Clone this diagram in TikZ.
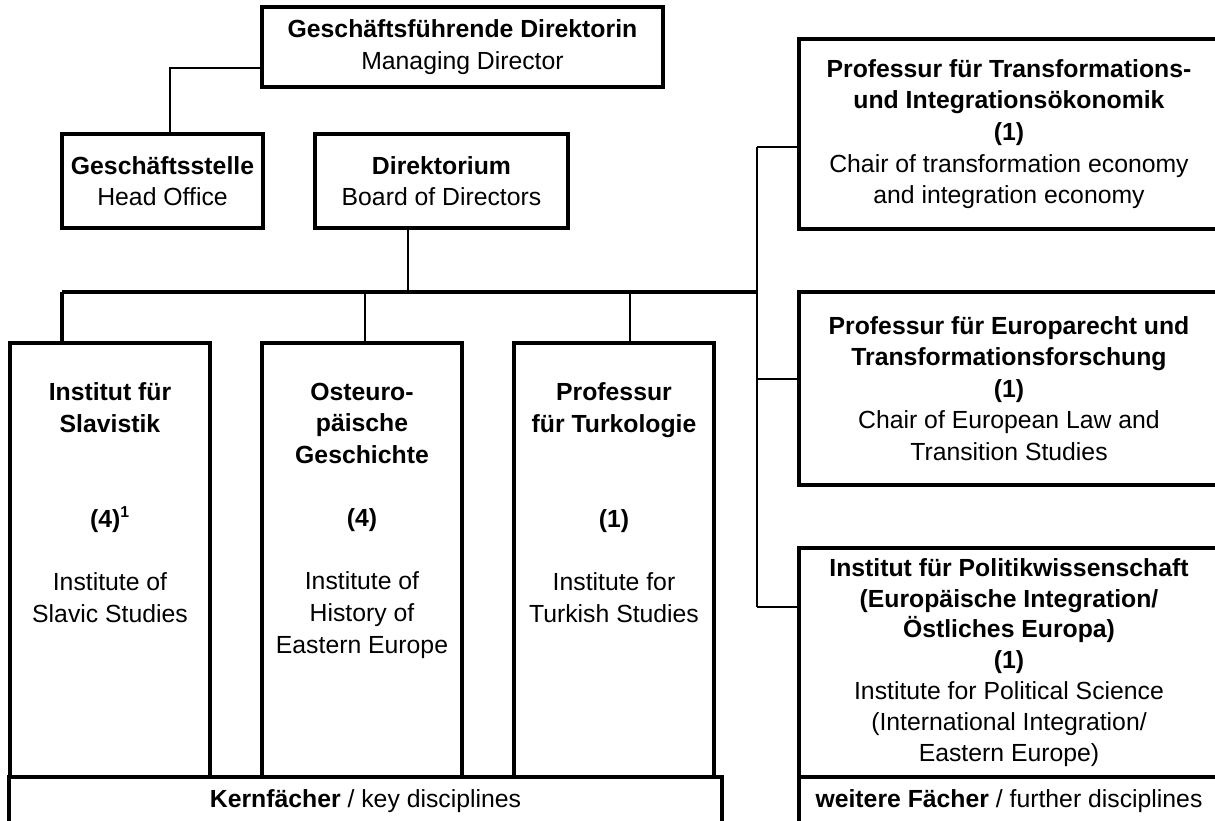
\documentclass[tikz,border=0pt]{standalone}
\usepackage{fontspec}
\setmainfont{Liberation Sans}
\usetikzlibrary{positioning,calc}

\begin{document}
\begin{tikzpicture}[
  x=0.02cm, y=-0.02cm,
  font=\fontsize{14.1}{18}\selectfont,
  box/.style={draw, line width=1.9pt, align=center, inner sep=0pt},
  txt/.style={align=center, inner sep=0pt},
  wire/.style={line width=0.9pt},
  bus/.style={line width=1.9pt}
]
  \useasboundingbox (0,0) rectangle (1215,821);
  \clip (0,0) rectangle (1215,821);

  % head and staff
  \node[box, minimum width=8.02cm, minimum height=1.6cm] (mgmt) at (462.5,47)
    {\textbf{Geschäftsführende Direktorin}\\Managing Director};
  \node[box, minimum width=4.02cm, minimum height=1.88cm] (office) at (162.5,181)
    {\textbf{Geschäftsstelle}\\Head Office};
  \node[box, minimum width=5.06cm, minimum height=1.88cm] (board) at (441.5,181)
    {\textbf{Direktorium}\\Board of Directors};

  % key disciplines
  \foreach \n/\x in {slav/110, osteu/362, turk/614} {
    \node[box, minimum width=4cm, minimum height=8.68cm] (\n) at (\x,560) {};
  }
  \node[txt, below=0.82cm of slav.north] (slavtxt)
    {\textbf{Institut für}\\\textbf{Slavistik}\\[36pt]\textbf{(4)}\textsuperscript{\textbf{\fontsize{9}{9}\selectfont 1}}\\[18pt]Institute of\\Slavic Studies};
  \node[txt, below=0.82cm of osteu.north] (osteutxt)
    {\textbf{Osteuro-}\\\textbf{päische}\\\textbf{Geschichte}\\[18pt]\textbf{(4)}\\[18pt]Institute of\\History of\\Eastern Europe};
  \node[txt, below=0.82cm of turk.north] (turktxt)
    {\textbf{Professur}\\\textbf{für Turkologie}\\[36pt]\textbf{(1)}\\[18pt]Institute for\\Turkish Studies};
  \node[box, minimum width=14.26cm, minimum height=0.96cm] (kern) at (365.5,801)
    {\textbf{Kernfächer} / key disciplines};

  % further disciplines
  \node[box, minimum width=8.4cm, minimum height=3.8cm] (trans) at (1009,134)
    {\textbf{Professur für Transformations-}\\\textbf{und Integrationsökonomik}\\\textbf{(1)}\\Chair of transformation economy\\and integration economy};
  \node[box, minimum width=8.4cm, minimum height=3.86cm] (recht) at (1009,388.5)
    {\textbf{Professur für Europarecht und}\\\textbf{Transformationsforschung}\\\textbf{(1)}\\Chair of European Law and\\Transition Studies};
  \node[box, minimum width=8.4cm, minimum height=4.58cm, font=\fontsize{14.1}{17.6}\selectfont] (polit) at (1009,662.5)
    {\textbf{Institut für Politikwissenschaft}\\\textbf{(Europäische Integration/}\\\textbf{Östliches Europa)}\\\textbf{(1)}\\Institute for Political Science\\(International Integration/\\Eastern Europe)};
  \node[box, minimum width=8.4cm, minimum height=0.96cm] (weitere) at (1009,801)
    {\textbf{weitere Fächer} / further disciplines};

  % connectors
  \coordinate (elbow) at (170,68);
  \draw[wire] (mgmt.west |- elbow) -- (elbow) -- (elbow |- office.north);

  \coordinate (busL) at (62,292);
  \coordinate (busR) at (757,292);
  \draw[wire] (board.south -| 408,0) -- (busL -| 408,0);
  \draw[bus] (busL) -- (busR);
  \draw[bus] (busL) -- (busL |- slav.north);
  \foreach \n/\x in {osteu/365, turk/630} {
    \draw[wire] (busL -| \x,0) -- (\n.north -| \x,0);
  }

  \coordinate (spineT) at (757,147);
  \coordinate (spineB) at (757,607);
  \draw[wire] (spineT) -- (spineB);
  \draw[wire] (spineT) -- (spineT -| trans.west);
  \draw[wire] (spineT |- 0,379) -- (recht.west |- 0,379);
  \draw[wire] (spineB) -- (spineB -| polit.west);
\end{tikzpicture}
\end{document}
